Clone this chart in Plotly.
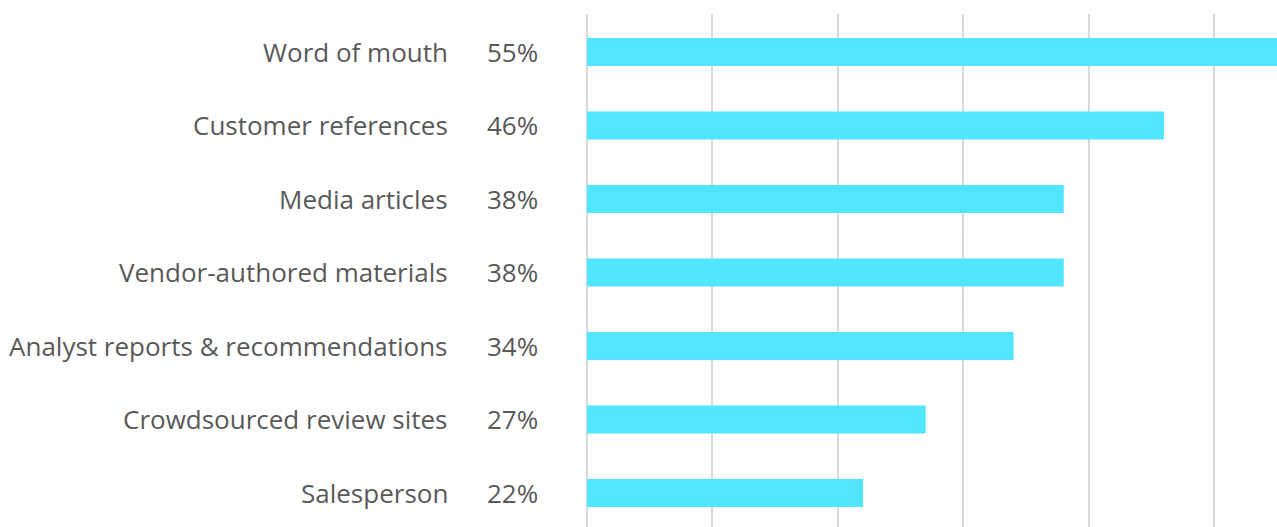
import plotly.graph_objects as go

categories = ["Word of mouth", "Customer references", "Media articles",
              "Vendor-authored materials", "Analyst reports & recommendations",
              "Crowdsourced review sites", "Salesperson"]
values = [0.55, 0.46, 0.38, 0.38, 0.34, 0.27, 0.22]

W, H = 1277, 527
L, T = 587, 14
plot_w = W - L

fig = go.Figure(go.Bar(
    x=values, y=categories, orientation="h",
    marker=dict(color="#52E5FF", line=dict(width=0)),
    width=0.38, hoverinfo="skip",
))

font_family = "Open Sans, Noto Sans, sans-serif"
annotations = []
for c, v in zip(categories, values):
    annotations.append(dict(x=(450 - L) / plot_w, y=c, xref="paper", yref="y",
                            text=c, showarrow=False, xanchor="right",
                            font=dict(family=font_family, size=26, color="#595959")))
    annotations.append(dict(x=(485 - L) / plot_w, y=c, xref="paper", yref="y",
                            text=f"{round(v*100)}%", showarrow=False, xanchor="left",
                            font=dict(family=font_family, size=26, color="#595959")))

fig.update_layout(
    width=W, height=H,
    margin=dict(l=L, r=0, t=T, b=0),
    paper_bgcolor="white", plot_bgcolor="white",
    showlegend=False,
    xaxis=dict(range=[0, 0.55], dtick=0.1, showgrid=True, gridcolor="#D9D9D9",
               gridwidth=1.5, zeroline=True, zerolinecolor="#D9D9D9", zerolinewidth=1.5,
               showticklabels=False, showline=False, fixedrange=True),
    yaxis=dict(range=[6.463, -0.517], showticklabels=False, showgrid=False,
               showline=False, zeroline=False, fixedrange=True),
    annotations=annotations,
)

post = ("document.body.style.margin='0';document.body.style.overflow='hidden';"
        "var gd=document.getElementById('{plot_id}');"
        "Plotly.relayout(gd,{width:%d,height:%d});" % (W, H))
fig.write_html("out.html", config={"displayModeBar": False}, post_script=post)
